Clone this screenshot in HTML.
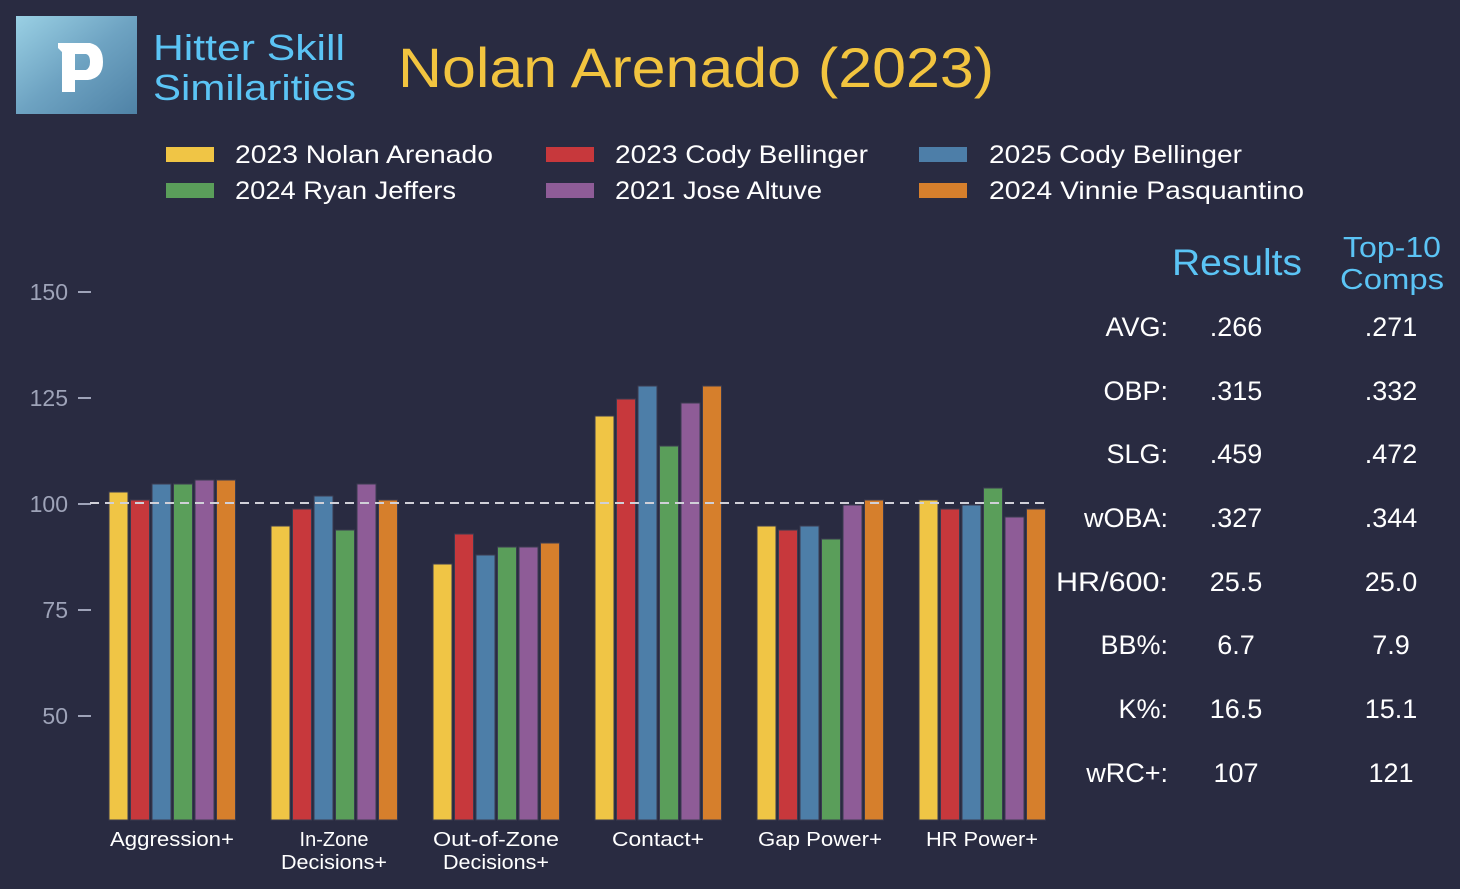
<!DOCTYPE html>
<html><head><meta charset="utf-8"><style>
html,body{margin:0;padding:0;background:#292b41;}
svg{display:block;font-family:"Liberation Sans",sans-serif;}
</style></head><body>
<svg width="1460" height="889" viewBox="0 0 1460 889" xmlns="http://www.w3.org/2000/svg">
<defs>
<linearGradient id="lg" x1="0" y1="0" x2="1" y2="1">
<stop offset="0" stop-color="#9ad0e4"/><stop offset="0.5" stop-color="#6ea3c2"/><stop offset="1" stop-color="#4f82a6"/>
</linearGradient>
</defs>
<rect width="1460" height="889" fill="#292b41"/>
<rect x="16" y="16" width="121" height="98" fill="url(#lg)"/>
<path d="M58 43 L90 43 Q103 46 103 62 Q103 78 88 80 L75 80 L75 92 L62 92 L62 52 L58 48 Z M75 54 L75 70 L86 70 Q90 68 90 62 Q90 55 86 54 Z" fill="#fff"/>
<text x="153" y="60" font-size="36" fill="#5bc4f5" textLength="192" lengthAdjust="spacingAndGlyphs">Hitter Skill</text>
<text x="153" y="100" font-size="36" fill="#5bc4f5" textLength="203" lengthAdjust="spacingAndGlyphs">Similarities</text>
<text x="398" y="87" font-size="56" fill="#f2c43f" textLength="596" lengthAdjust="spacingAndGlyphs">Nolan Arenado (2023)</text>
<g font-size="25" fill="#fff">
<rect x="166" y="147" width="48" height="15" fill="#f0c545"/><text x="235" y="163" textLength="258" lengthAdjust="spacingAndGlyphs">2023 Nolan Arenado</text>
<rect x="166" y="183" width="48" height="15" fill="#5a9e5a"/><text x="235" y="199" textLength="221" lengthAdjust="spacingAndGlyphs">2024 Ryan Jeffers</text>
<rect x="546" y="147" width="48" height="15" fill="#c7383c"/><text x="615" y="163" textLength="253" lengthAdjust="spacingAndGlyphs">2023 Cody Bellinger</text>
<rect x="546" y="183" width="48" height="15" fill="#8e5c97"/><text x="615" y="199" textLength="207" lengthAdjust="spacingAndGlyphs">2021 Jose Altuve</text>
<rect x="919" y="147" width="48" height="15" fill="#4d7ea8"/><text x="989" y="163" textLength="253" lengthAdjust="spacingAndGlyphs">2025 Cody Bellinger</text>
<rect x="919" y="183" width="48" height="15" fill="#d67f2c"/><text x="989" y="199" textLength="315" lengthAdjust="spacingAndGlyphs">2024 Vinnie Pasquantino</text>
</g>
<g font-size="23" fill="#9ea3b8" text-anchor="end">
<text x="68" y="300">150</text><text x="68" y="406">125</text><text x="68" y="512">100</text><text x="68" y="618">75</text><text x="68" y="724">50</text>
</g>
<g stroke="#9ea3b8" stroke-width="2">
<line x1="78" y1="292" x2="91" y2="292"/><line x1="78" y1="398" x2="91" y2="398"/><line x1="78" y1="504" x2="91" y2="504"/><line x1="78" y1="610" x2="91" y2="610"/><line x1="78" y1="716" x2="91" y2="716"/>
</g>
<g stroke="#3a3b50" stroke-width="1">
<rect x="109" y="492" width="19" height="328" fill="#f0c545"/>
<rect x="130.5" y="500" width="19" height="320" fill="#c7383c"/>
<rect x="152" y="484" width="19" height="336" fill="#4d7ea8"/>
<rect x="173.5" y="484" width="19" height="336" fill="#5a9e5a"/>
<rect x="195" y="480" width="19" height="340" fill="#8e5c97"/>
<rect x="216.5" y="480" width="19" height="340" fill="#d67f2c"/>
<rect x="271" y="526" width="19" height="294" fill="#f0c545"/>
<rect x="292.5" y="509" width="19" height="311" fill="#c7383c"/>
<rect x="314" y="496" width="19" height="324" fill="#4d7ea8"/>
<rect x="335.5" y="530" width="19" height="290" fill="#5a9e5a"/>
<rect x="357" y="484" width="19" height="336" fill="#8e5c97"/>
<rect x="378.5" y="500" width="19" height="320" fill="#d67f2c"/>
<rect x="433" y="564" width="19" height="256" fill="#f0c545"/>
<rect x="454.5" y="534" width="19" height="286" fill="#c7383c"/>
<rect x="476" y="555" width="19" height="265" fill="#4d7ea8"/>
<rect x="497.5" y="547" width="19" height="273" fill="#5a9e5a"/>
<rect x="519" y="547" width="19" height="273" fill="#8e5c97"/>
<rect x="540.5" y="543" width="19" height="277" fill="#d67f2c"/>
<rect x="595" y="416" width="19" height="404" fill="#f0c545"/>
<rect x="616.5" y="399" width="19" height="421" fill="#c7383c"/>
<rect x="638" y="386" width="19" height="434" fill="#4d7ea8"/>
<rect x="659.5" y="446" width="19" height="374" fill="#5a9e5a"/>
<rect x="681" y="403" width="19" height="417" fill="#8e5c97"/>
<rect x="702.5" y="386" width="19" height="434" fill="#d67f2c"/>
<rect x="757" y="526" width="19" height="294" fill="#f0c545"/>
<rect x="778.5" y="530" width="19" height="290" fill="#c7383c"/>
<rect x="800" y="526" width="19" height="294" fill="#4d7ea8"/>
<rect x="821.5" y="539" width="19" height="281" fill="#5a9e5a"/>
<rect x="843" y="505" width="19" height="315" fill="#8e5c97"/>
<rect x="864.5" y="500" width="19" height="320" fill="#d67f2c"/>
<rect x="919" y="500" width="19" height="320" fill="#f0c545"/>
<rect x="940.5" y="509" width="19" height="311" fill="#c7383c"/>
<rect x="962" y="505" width="19" height="315" fill="#4d7ea8"/>
<rect x="983.5" y="488" width="19" height="332" fill="#5a9e5a"/>
<rect x="1005" y="517" width="19" height="303" fill="#8e5c97"/>
<rect x="1026.5" y="509" width="19" height="311" fill="#d67f2c"/>
</g>
<line x1="90" y1="503" x2="1048" y2="503" stroke="#d0d0d8" stroke-width="2" stroke-dasharray="9,6"/>
<g font-size="20" fill="#fff" text-anchor="middle">
<text x="172" y="846" textLength="124" lengthAdjust="spacingAndGlyphs">Aggression+</text>
<text x="334" y="846">In-Zone</text><text x="334" y="869" textLength="106" lengthAdjust="spacingAndGlyphs">Decisions+</text>
<text x="496" y="846" textLength="126" lengthAdjust="spacingAndGlyphs">Out-of-Zone</text><text x="496" y="869" textLength="106" lengthAdjust="spacingAndGlyphs">Decisions+</text>
<text x="658" y="846" textLength="92" lengthAdjust="spacingAndGlyphs">Contact+</text>
<text x="820" y="846" textLength="124" lengthAdjust="spacingAndGlyphs">Gap Power+</text>
<text x="982" y="846" textLength="112" lengthAdjust="spacingAndGlyphs">HR Power+</text>
</g>
<text x="1237" y="275" font-size="37" fill="#5bc4f5" text-anchor="middle" textLength="130" lengthAdjust="spacingAndGlyphs">Results</text>
<text x="1392" y="257" font-size="29" fill="#5bc4f5" text-anchor="middle" textLength="98" lengthAdjust="spacingAndGlyphs">Top-10</text>
<text x="1392" y="289" font-size="29" fill="#5bc4f5" text-anchor="middle" textLength="104" lengthAdjust="spacingAndGlyphs">Comps</text>
<g font-size="27" fill="#fff">
<g text-anchor="end">
<text x="1168" y="336">AVG:</text><text x="1168" y="400">OBP:</text><text x="1168" y="463">SLG:</text><text x="1168" y="527">wOBA:</text><text x="1168" y="591" textLength="112" lengthAdjust="spacingAndGlyphs">HR/600:</text><text x="1168" y="654">BB%:</text><text x="1168" y="718">K%:</text><text x="1168" y="782">wRC+:</text>
</g>
<g text-anchor="middle">
<text x="1236" y="336">.266</text><text x="1236" y="400">.315</text><text x="1236" y="463">.459</text><text x="1236" y="527">.327</text><text x="1236" y="591">25.5</text><text x="1236" y="654">6.7</text><text x="1236" y="718">16.5</text><text x="1236" y="782">107</text>
<text x="1391" y="336">.271</text><text x="1391" y="400">.332</text><text x="1391" y="463">.472</text><text x="1391" y="527">.344</text><text x="1391" y="591">25.0</text><text x="1391" y="654">7.9</text><text x="1391" y="718">15.1</text><text x="1391" y="782">121</text>
</g>
</g>
</svg>
</body></html>
